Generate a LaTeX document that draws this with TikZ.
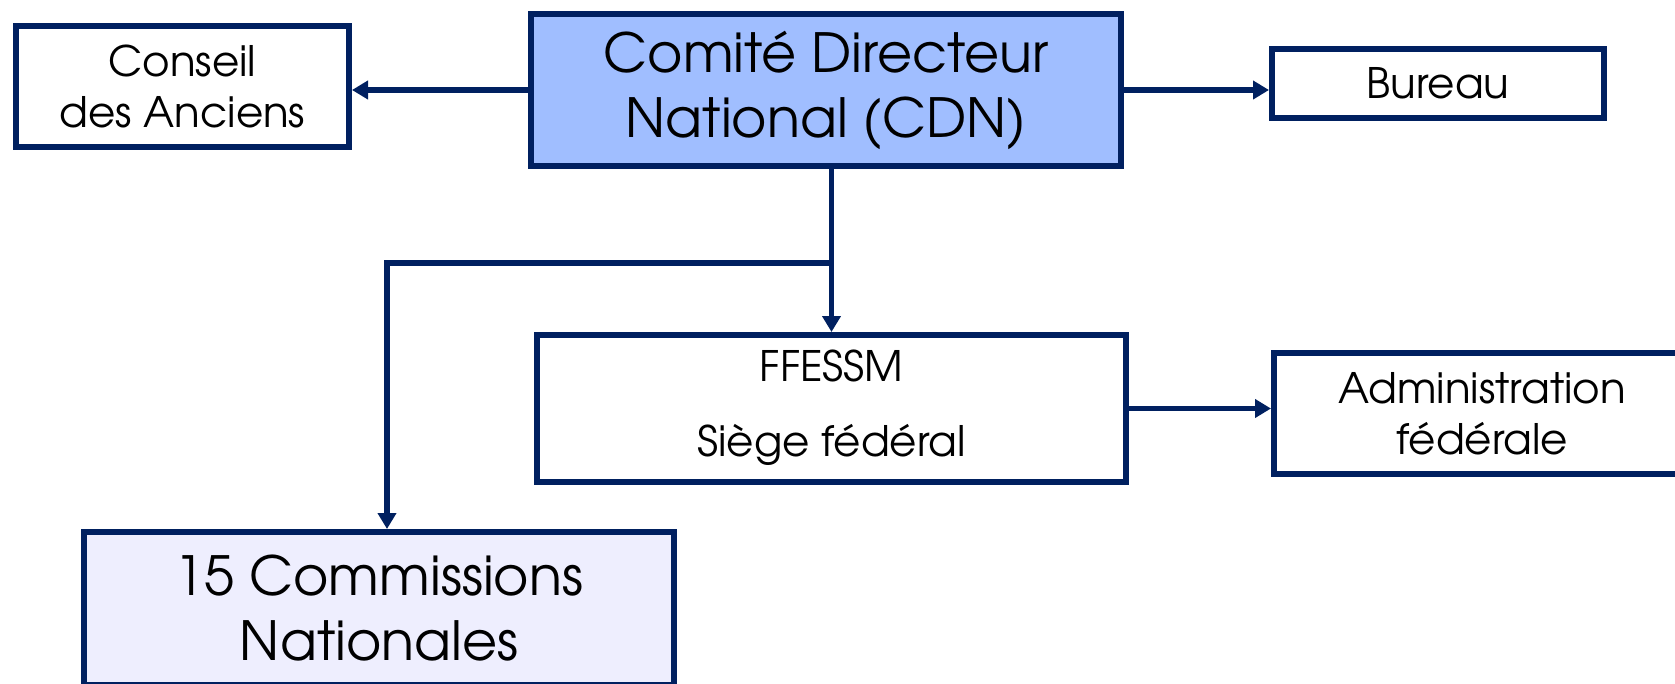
\documentclass[tikz,border=0pt]{standalone}
\usepackage{fontspec}
\setmainfont{TeX Gyre Adventor}
\usetikzlibrary{arrows.meta,calc}
\definecolor{navy}{RGB}{0,32,96}
\definecolor{cdnfill}{RGB}{160,190,255}
\definecolor{comfill}{RGB}{238,238,254}
\tikzset{
  box/.style={draw=navy, line width=6pt, fill=white, inner sep=0pt, align=center, text=black},
  smalltext/.style={font=\fontsize{42}{51}\selectfont},
  bigtext/.style={font=\fontsize{54}{65}\selectfont},
  conn/.style={draw=navy, line width=5.5pt, -{Triangle[length=16pt,width=18pt]}}
}
\begin{document}
\begin{tikzpicture}[x=1pt,y=-1pt]
\useasboundingbox (0,0) rectangle (1675,683);
\node[box, smalltext, minimum width=333pt, minimum height=121pt] (conseil) at (182.5,86.5) {Conseil\\des Anciens};
\node[box, bigtext, fill=cdnfill, minimum width=590pt, minimum height=152pt] (cdn) at (826,90) {Comité Directeur\\National (CDN)};
\node[box, smalltext, minimum width=332pt, minimum height=69pt] (bureau) at (1438,83.5) {Bureau};
\node[box, smalltext, minimum width=589pt, minimum height=147pt] (ffessm) at (831.5,408.5) {\raisebox{-6pt}{\begin{tabular}{@{}c@{}}FFESSM\\[24pt]Siège fédéral\end{tabular}}};
\node[box, smalltext, minimum width=416pt, minimum height=121pt] (admin) at (1482,413.5) {Administration\\fédérale};
\node[box, bigtext, fill=comfill, minimum width=590pt, minimum height=153pt] (comm) at (379,608.5) {15 Commissions\\Nationales};
\coordinate (junction) at (832,263);
\draw[conn] (cdn.west) -- (cdn.west -| conseil.east);
\draw[conn] (cdn.east) -- (cdn.east -| bureau.west);
\draw[conn] (ffessm.north |- cdn.south) -- (ffessm.north);
\draw[conn] (junction) -| ($(comm.north)+(8,0)$);
\draw[conn] (ffessm.east) -- (ffessm.east -| admin.west);
\end{tikzpicture}
\end{document}
